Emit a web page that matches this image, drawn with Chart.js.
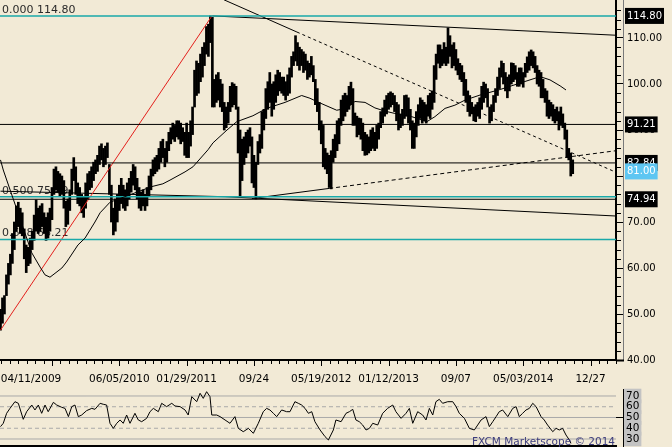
<!DOCTYPE html>
<html>
<head>
<meta charset="utf-8">
<script src="https://cdn.jsdelivr.net/npm/chart.js@4/dist/chart.umd.min.js"></script>
<style>
  html, body { margin: 0; padding: 0; background: #f2ead6; }
  #wrap { position: relative; width: 672px; height: 447px; overflow: hidden; background: #f2ead6; }
  #main { position: absolute; left: 0; top: 0; }
  #rsi { position: absolute; left: 0; top: 388px; }
</style>
</head>
<body>
<div id="wrap">
  <canvas id="main" width="672" height="388"></canvas>
  <canvas id="rsi" width="672" height="59"></canvas>
</div>
<script>
// ===== DATA (weekly bars, week 0 = 04/11/2009) =====
const lows = [
  46.5, 48, 50, 54, 56.5, 58.5, 61, 64, 68, 69,
  67.5, 67, 62, 59, 60.5, 61, 64, 66, 68, 67.5,
  68, 69, 67.5, 66, 66.5, 68, 70.5, 76, 77, 76.5,
  75.5, 76, 73, 69, 69.5, 72.5, 76, 79, 76, 74,
  73.5, 72, 71, 73, 75, 77, 77.5, 79, 80.5, 81,
  82.5, 83.5, 82, 82.5, 84, 76, 70, 67.2, 68, 70,
  72.5, 74, 73, 72.5, 73.5, 75, 76.5, 78, 77, 75,
  73, 72.5, 73.5, 72.5, 73.5, 75.5, 77, 80, 80.5, 81,
  81.5, 83, 84, 82, 83, 85.5, 87, 88, 87.5, 88.5,
  88, 87, 87.5, 84.5, 84, 84, 86.5, 89, 95, 97.5,
  98, 100.5, 101.5, 104, 106.5, 106, 109, 95, 95, 96,
  96.5, 95, 94, 90, 90.5, 91.5, 94, 95, 95.5, 94.5,
  85, 75.5, 79, 82.5, 84, 85, 86.5, 78.5, 77.5, 75,
  82.5, 85, 86, 90, 92.5, 94.5, 96, 93, 94.5, 96,
  97.5, 98.5, 98, 97.5, 96.5, 97.5, 98, 101.5, 104, 105,
  104, 103, 104, 102.5, 103, 101, 101.5, 102, 100.5, 95.5,
  94, 90, 87, 82, 81.5, 80.5, 77.5, 77.2, 83, 84,
  85.5, 87, 91, 92, 93, 94, 94.5, 95.5, 91, 91,
  88.5, 89, 88, 85.5, 84.5, 84.6, 85, 85.5, 86, 85.5,
  86, 88, 90.5, 91.5, 93, 93.5, 94.5, 95, 95.5, 94,
  92, 90, 90.5, 91, 92.5, 93, 91.5, 90, 86, 86,
  88.5, 91, 92.5, 91.5, 92, 91.5, 93, 92.5, 94.5, 96,
  101, 104.5, 103.5, 104, 104.5, 104, 104.5, 106, 103.5, 104,
  103, 102, 101, 100.5, 97.5, 96, 94, 93, 93.5, 92,
  91.8, 93, 92.5, 94.5, 96, 97, 95, 91.5, 92, 94,
  96, 97.5, 99, 101.5, 100, 98.5, 97, 98.5, 100, 100.5,
  101, 99.5, 99.5, 100, 99.3, 101.5, 102.5, 103, 104, 103.5,
  102.5, 100, 99.5, 97, 97, 96, 93, 92.5, 93, 92,
  91.5, 92, 90, 91, 90.5, 88, 84, 83.5, 80, 80.5
];
const highs = [
  51, 53.5, 54, 58.5, 61, 63, 67.5, 70, 73.5, 74.3,
  73, 72, 68.5, 65, 64.5, 66.5, 68, 71.5, 74.8, 73,
  73.5, 74, 72, 71, 72, 73, 77.5, 81.5, 82, 81,
  80.5, 80, 79, 74.5, 75, 77, 81.5, 84, 82, 78.5,
  77.5, 76, 75.5, 78.5, 80.5, 81, 82, 83, 83.5, 84.5,
  86.5, 87, 86, 86.5, 87.2, 82.5, 78, 73, 75, 76,
  78, 79.5, 78, 77, 78.5, 79.5, 81, 82.5, 82, 79.5,
  77.5, 76.5, 77, 76, 77.5, 80, 81.5, 83.5, 84, 84.5,
  86, 87.5, 88, 86, 87.5, 89.5, 90.5, 91.5, 91, 92,
  92, 91.5, 90.5, 89.5, 91.5, 89.5, 92, 95, 103, 105,
  104.5, 106.5, 108, 109, 112.5, 113, 114.8, 114.5, 101, 102,
  102.5, 101, 100, 96, 95, 96, 99.5, 100.3, 100, 99.5,
  95, 90, 88, 88.5, 89.5, 90, 90.5, 88.5, 84.5, 83,
  87.5, 89, 94, 94.5, 99, 100.5, 102.5, 100, 100.5, 102,
  103, 102.5, 101.5, 101.5, 100.5, 102, 103.5, 106, 107, 110.5,
  109, 108, 107.5, 107, 106.5, 105, 104.5, 106, 104, 101,
  99, 96, 92, 91, 86, 85, 84.5, 85.5, 88, 89,
  92, 92.5, 96.5, 97.5, 98, 97.5, 99.5, 100.4, 99, 93.7,
  93, 92.6, 92.5, 91.5, 89.5, 89, 88.5, 90, 90.5, 89.5,
  91, 91.5, 94, 94.8, 96.5, 97.5, 98, 98.3, 98, 97.5,
  96, 95.5, 93.5, 94.5, 97.5, 97.6, 97, 94.5, 92, 91.5,
  94, 95.5, 97, 96.5, 96, 95.5, 97.5, 98, 98.5, 104,
  106.5, 108.5, 108.5, 107.5, 109, 108, 112.2, 110.5, 108.5, 109,
  107.5, 105.5, 104.5, 104, 102.5, 101, 98.5, 97.5, 96, 95,
  95.5, 96, 97, 99.5, 100.4, 100, 99, 95, 95.5, 97.5,
  99, 101.5, 103.5, 105, 104.5, 102.5, 101.5, 102, 104.6, 104.5,
  104, 102.5, 103.5, 103.5, 102.5, 104.5, 105.9, 107, 107.4, 107,
  106, 104, 103, 102.5, 101, 99, 98.5, 96.5, 96, 95.5,
  94.5, 95, 94, 95, 93.5, 91.5, 90, 86, 85, 83.5
];

// moving average, [week, price]
const maPoints = [
  [0, 83.5], [1.4, 81.3], [15.8, 63.3], [20, 60.2], [22.5, 58.5], [25, 58.0], [31, 60.0], [33.4, 61.3],
  [39.1, 65.0], [42.7, 66.5], [47.7, 70.0], [50.3, 72.0], [55.3, 74.3], [76.4, 77.7], [82, 78.3], [85.6, 79.1],
  [93.2, 80.9], [97.2, 82.0], [104.8, 85.7], [107.3, 87.2], [114.4, 90.0], [119.3, 91.8], [127.5, 93.1],
  [134.4, 94.7], [143.7, 96.0], [152.1, 97.5], [156.3, 96.9], [159.7, 96.2], [163.9, 95.4], [169.8, 94.3],
  [174.8, 94.7], [179, 96.2], [184.1, 96.0], [189.1, 94.8], [194.2, 94.1], [199.2, 93.6], [207.7, 92.9],
  [215.3, 91.8], [219.4, 92.9], [224.5, 94.7], [229.5, 95.4], [234.6, 96.5], [242.2, 97.6], [252.3, 98.8],
  [262.4, 100.2], [272.5, 101.6], [277.5, 100.9], [282.6, 99.6], [285.6, 98.7]
];

// RSI, [week, value]
const rsiPoints = [
  [0, 41.5], [1.4, 44.6], [3.1, 53.9], [4.8, 58.5], [7.3, 64.7], [9, 63.2], [11.5, 48.3], [13.2, 55.4],
  [15.8, 61.6], [17.4, 57], [19.1, 61.6], [20.8, 53.9], [22.5, 61.6], [24.1, 55.4], [26.7, 64.1], [28.4, 61.6],
  [30.9, 59.5], [32.6, 58.5], [34.3, 50.8], [36, 60.1], [37.6, 61.6], [39.3, 50.8], [41, 52.3], [43.5, 56.4],
  [46.1, 58.5], [47.7, 57.6], [50.3, 63.2], [51.9, 62.3], [53.6, 61.6], [55.3, 44.6], [57, 39.9], [58.7, 44.6],
  [60.4, 47.7], [62, 44.6], [63.7, 52.3], [65.4, 44.6], [67.9, 53.9], [69.6, 47.7], [71.3, 46.1], [73.8, 49.2],
  [75.5, 55.4], [77.2, 58.5], [79.7, 55.4], [81.4, 63.2], [83.9, 60.1], [86.5, 63.2], [88.1, 60.7], [90.7, 60.1],
  [93.2, 57], [94.8, 52.3], [96.6, 69.4], [99.1, 64.7], [100.8, 72.5], [102.4, 67.8], [104.1, 74], [105.8, 69.4],
  [106.7, 52.3], [109.2, 52.3], [110.9, 50.8], [113.4, 47.7], [115.9, 44.6], [118.4, 50.8], [120.1, 39.9],
  [122.6, 36.8], [125.2, 39.9], [127.7, 35.3], [130.2, 44.6], [132.7, 55.4], [134.4, 58.5], [136.1, 57],
  [137.8, 53.9], [139.5, 50.8], [142, 57], [144.5, 55.4], [146.2, 55.4], [148.7, 64.7], [150.4, 63.2],
  [152.1, 61.6], [153.8, 58.5], [155.5, 53.9], [157.2, 55.4], [158.8, 46.1], [161.4, 38.4], [163.9, 32.2],
  [165.6, 29.1], [168.1, 38.4], [169.4, 47.7], [172, 46.1], [174.5, 53.9], [176.2, 55.4], [177.9, 57.6],
  [179.5, 47.7], [181.2, 46.1], [182.9, 43], [184.6, 38.4], [186.3, 39.9], [188, 44.6], [190.5, 43],
  [193, 53.9], [195.5, 58.5], [198.1, 61.6], [199.7, 55.4], [202.3, 49.2], [204.8, 53.9], [206.5, 58.5],
  [208.2, 44.6], [210.7, 55.4], [213.2, 52.3], [214.9, 47.7], [216.6, 58.5], [218.3, 52.3], [219.9, 64.7],
  [221.6, 66.9], [223.3, 63.2], [225.9, 64.7], [228.4, 64.7], [230.1, 60.1], [231.7, 53.9], [234.3, 49.2],
  [236.8, 39.9], [239.3, 38.4], [241, 43], [242.7, 47.7], [245.2, 50.8], [246.9, 41.5], [248.6, 46.1],
  [250.3, 50.8], [251.9, 55.4], [253.6, 57], [256.2, 50.8], [258.7, 58.5], [260.4, 60.1], [262, 50.8],
  [263.7, 53.9], [265.4, 57], [267.1, 58.5], [268.8, 63.2], [270.5, 60.1], [273, 50.8], [274.6, 47.7],
  [276.3, 43], [278.9, 36.8], [280.6, 39.9], [282.2, 38.4], [283.9, 39.9], [285.6, 33.7], [287.3, 29.1],
  [288.1, 26]
];

// trend lines, [week, price]
const fibBase = [[0, 46.5], [106.8, 114.8]];
const peakLine = [[107, 114.8], [310.9, 110.6]];
const upperSolid = [[112.9, 118.3], [149.7, 111.3]];
const upperDotted = [[149.7, 111.3], [310.9, 80.8]];
const lowerSolid = [[127, 75.1], [166, 77.3]];
const lowerDotted = [[166, 77.3], [310.9, 85.5]];
const floorLine = [[0, 76.7], [113.4, 75.5], [310.9, 71.3]];

const fibLevels = [114.8, 75.49, 66.21];
const fibNames = ['0.000', '0.500', '0.618'];
const blackLevels = [91.21, 82.84, 74.94];
const axisLevels = [114.8, 91.21, 82.84, 81.0, 74.94];
const priceTicks = [40, 50, 60, 70, 80, 90, 100, 110];

const tickWeeks = [15.4, 60, 94, 128, 162, 196, 230, 264, 298];
const tickLabels = ['04/11/2009', '06/05/2010', '01/29/2011', '09/24', '05/19/2012', '01/12/2013', '09/07', '05/03/2014', '12/27'];
const rsiLevels = [70, 60, 50, 40, 30];

// ===== SETUP =====
const X_MIN = -0.25, X_MAX = 310.85;
const BG = '#f2ead6';
const CYAN = '#19a9a9';
const FONT = 'DejaVu Sans';
Chart.defaults.font.family = FONT;
Chart.defaults.color = '#000';

const pts = arr => arr.map(([x, y]) => ({ x, y }));
const flat = v => [{ x: X_MIN, y: v }, { x: X_MAX, y: v }];
function line(data, color, width, dash) {
  return { type: 'line', data, borderColor: color, borderWidth: width, borderDash: dash || [],
           pointRadius: 0, fill: false, tension: 0, order: 1 };
}

const bars = lows.map((lo, i) => ({ x: i, y: [lo, highs[i]] }));

// ===== MAIN CHART PLUGIN =====
const mainExtras = {
  id: 'mainExtras',
  beforeDatasetsDraw(chart) {
    const { ctx, scales: { y } } = chart;
    ctx.save();
    ctx.font = '11px ' + FONT;
    ctx.fillStyle = '#2a2a2a';
    ctx.textBaseline = 'alphabetic';
    fibLevels.forEach((v, i) => {
      ctx.fillText(fibNames[i] + ' ' + v.toFixed(2), 2, y.getPixelForValue(v) - 3);
    });
    ctx.restore();
  },
  afterDraw(chart) {
    const { ctx, chartArea: a, scales: { x, y } } = chart;
    ctx.save();
    ctx.strokeStyle = '#000';
    ctx.lineWidth = 1;
    // x tick marks, major every 34 weeks
    for (let w = 0.5; w <= X_MAX; w += 4.25) {
      const px = Math.round(x.getPixelForValue(w)) + 0.5;
      const major = Math.abs(((w - 26) / 34) - Math.round((w - 26) / 34)) < 0.01;
      ctx.beginPath();
      ctx.moveTo(px, a.bottom);
      ctx.lineTo(px, a.bottom + (major ? 6 : 4));
      ctx.stroke();
    }
    // y minor ticks
    for (let v = 42; v < 118; v += 2) {
      if (v % 10 === 0) continue;
      const py = Math.round(y.getPixelForValue(v)) + 0.5;
      ctx.beginPath();
      ctx.moveTo(a.right + 1, py);
      ctx.lineTo(a.right + 5, py);
      ctx.stroke();
    }
    // outer axis frame
    ctx.strokeStyle = '#7a7a7a';
    ctx.beginPath();
    ctx.moveTo(a.right + 7.5, 0);
    ctx.lineTo(a.right + 7.5, a.bottom + 1);
    ctx.stroke();
    ctx.strokeStyle = '#000';
    ctx.lineWidth = 2;
    ctx.beginPath();
    ctx.moveTo(a.right, a.bottom + 0.5);
    ctx.lineTo(a.right + 8, a.bottom + 0.5);
    ctx.stroke();
    ctx.restore();
  }
};

const specialBg = v => {
  if (Math.abs(v - 81) < 0.001) return '#5ec6f2';
  if (axisLevels.some(l => Math.abs(l - v) < 0.001)) return '#000';
  return 'rgba(0,0,0,0)';
};

new Chart(document.getElementById('main'), {
  type: 'bar',
  data: {
    datasets: [
      { type: 'bar', data: bars, backgroundColor: '#000', barThickness: 2, order: 10 },
      line(pts(maPoints), '#000', 1),
      ...fibLevels.map(v => line(flat(v), CYAN, 1.5)),
      ...blackLevels.map(v => line(flat(v), '#000', 1)),
      line(pts(fibBase), '#e3201c', 1),
      line(pts(peakLine), '#000', 1),
      line(pts(upperSolid), '#000', 1),
      line(pts(upperDotted), '#000', 1, [3, 3]),
      line(pts(lowerSolid), '#000', 1),
      line(pts(lowerDotted), '#000', 1, [4, 3]),
      line(pts(floorLine), '#000', 1)
    ]
  },
  options: {
    responsive: false,
    animation: false,
    devicePixelRatio: 1,
    layout: { padding: 0 },
    plugins: { legend: { display: false }, tooltip: { enabled: false } },
    scales: {
      x: {
        type: 'linear', min: X_MIN, max: X_MAX, offset: false,
        grid: { display: false, drawTicks: false },
        border: { display: true, color: '#000', width: 2 },
        afterBuildTicks: s => { s.ticks = tickWeeks.map(v => ({ value: v })); },
        afterFit: s => { s.height = 28; s.paddingLeft = 0; s.paddingRight = 0; },
        ticks: {
          autoSkip: false, maxRotation: 0, padding: 13,
          font: { size: 10.5 }, color: '#000',
          callback: (v, i) => tickLabels[i]
        }
      },
      y: {
        type: 'linear', position: 'right', min: 40, max: 40 + 360 / 4.6,
        grid: {
          drawOnChartArea: false, drawTicks: true, tickLength: 7,
          tickColor: c => (axisLevels.includes(c.tick && c.tick.value) ? 'rgba(0,0,0,0)' : '#000')
        },
        border: { display: true, color: '#000', width: 2 },
        afterBuildTicks: s => { s.ticks = [...priceTicks, ...axisLevels].map(v => ({ value: v })); },
        afterFit: s => { s.width = 56; s.paddingTop = 0; s.paddingBottom = 0; },
        ticks: {
          autoSkip: false, padding: 4,
          font: { size: 10 },
          color: c => (axisLevels.includes(c.tick.value) ? '#fff' : '#000'),
          showLabelBackdrop: c => axisLevels.includes(c.tick.value),
          backdropColor: c => specialBg(c.tick.value),
          backdropPadding: { x: 2, y: 2 },
          callback: v => v.toFixed(2)
        }
      }
    }
  },
  plugins: [mainExtras]
});

// ===== RSI PANEL =====
const rsiExtras = {
  id: 'rsiExtras',
  afterDraw(chart) {
    const { ctx, chartArea: a } = chart;
    ctx.save();
    ctx.strokeStyle = '#000';
    ctx.lineWidth = 1;
    ctx.beginPath();
    ctx.moveTo(a.right + 7.5, 1);
    ctx.lineTo(a.right + 7.5, a.bottom + 1);
    ctx.stroke();
    ctx.font = '10.5px ' + FONT;
    ctx.fillStyle = '#3c3c7c';
    ctx.textAlign = 'right';
    ctx.fillText('FXCM Marketscope \u00a9 2014', a.right - 1, 57);
    ctx.restore();
  }
};

new Chart(document.getElementById('rsi'), {
  type: 'line',
  data: {
    datasets: [
      line(pts(rsiPoints), '#000', 1),
      ...rsiLevels.map(v => ({ ...line(flat(v), '#a9a9a9', 1, v % 20 === 0 ? [4, 3] : []), order: 5 }))
    ]
  },
  options: {
    responsive: false,
    animation: false,
    devicePixelRatio: 1,
    layout: { padding: 0 },
    plugins: { legend: { display: false }, tooltip: { enabled: false } },
    scales: {
      x: {
        type: 'linear', min: X_MIN, max: X_MAX,
        grid: { display: false, drawTicks: false },
        ticks: { display: false },
        border: { display: true, color: '#000', width: 2 },
        afterFit: s => { s.height = 1; s.paddingLeft = 0; s.paddingRight = 0; }
      },
      y: {
        type: 'linear', position: 'right', min: 23.49, max: 77.44,
        grid: {
          drawOnChartArea: false, drawTicks: true, tickLength: 7,
          tickColor: c => (c.tick && c.tick.value === 50 ? '#000' : 'rgba(0,0,0,0)')
        },
        border: { display: false },
        afterBuildTicks: s => { s.ticks = rsiLevels.map(v => ({ value: v })); },
        afterFit: s => { s.width = 56; s.paddingTop = 0; s.paddingBottom = 0; },
        ticks: {
          autoSkip: false, padding: 3,
          font: { size: 10.5 }, color: '#000',
          showLabelBackdrop: true,
          backdropColor: '#c3c3c3',
          backdropPadding: { x: 2, y: 1 }
        }
      }
    }
  },
  plugins: [rsiExtras]
});
</script>
</body>
</html>
